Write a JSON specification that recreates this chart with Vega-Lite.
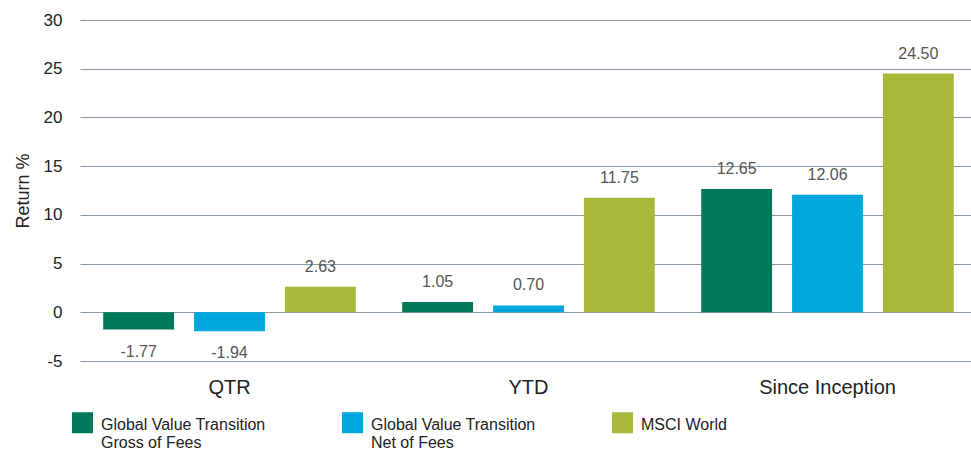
{
  "$schema": "https://vega.github.io/schema/vega-lite/v6.json",
  "width": 897,
  "height": 341,
  "autosize": "none",
  "padding": {"left": 80, "top": 20, "right": 0, "bottom": 89},
  "background": "white",
  "config": {
    "font": "Liberation Sans",
    "view": {"stroke": null}
  },
  "data": {
    "values": [
      {"period": "QTR", "series": "Gross", "value": -1.77},
      {"period": "QTR", "series": "Net", "value": -1.94},
      {"period": "QTR", "series": "MSCI", "value": 2.63},
      {"period": "YTD", "series": "Gross", "value": 1.05},
      {"period": "YTD", "series": "Net", "value": 0.70},
      {"period": "YTD", "series": "MSCI", "value": 11.75},
      {"period": "Since Inception", "series": "Gross", "value": 12.65},
      {"period": "Since Inception", "series": "Net", "value": 12.06},
      {"period": "Since Inception", "series": "MSCI", "value": 24.50}
    ]
  },
  "transform": [
    {"calculate": "replace(format(datum.value, '.2f'), '\u2212', '-')", "as": "label"}
  ],
  "encoding": {
    "x": {
      "field": "period", "type": "nominal",
      "sort": ["QTR", "YTD", "Since Inception"],
      "scale": {"paddingInner": 0, "paddingOuter": 0},
      "axis": {"title": null, "labelAngle": 0, "ticks": false, "domain": false, "labelFontSize": 20, "labelColor": "#222", "labelPadding": 16}
    },
    "xOffset": {
      "field": "series", "type": "nominal",
      "sort": ["Gross", "Net", "MSCI"],
      "scale": {"paddingInner": 0.22, "paddingOuter": 0.2555}
    },
    "y": {
      "field": "value", "type": "quantitative",
      "scale": {"domain": [-5, 30], "nice": false},
      "axis": {"title": "Return %", "titleFontSize": 18, "titleFontWeight": "normal", "titleColor": "#222", "titlePadding": 11, "values": [-5, 0, 5, 10, 15, 20, 25, 30], "labelExpr": "replace(datum.label, '\u2212', '-')", "ticks": false, "domain": false, "labelFontSize": 17, "labelColor": "#222", "labelPadding": 18, "gridColor": "#8a99a8", "gridWidth": 1, "gridOpacity": 1}
    }
  },
  "layer": [
    {
      "mark": {"type": "bar"},
      "encoding": {
        "color": {
          "field": "series", "type": "nominal",
          "sort": ["Gross", "Net", "MSCI"],
          "scale": {"domain": ["Gross", "Net", "MSCI"], "range": ["#00785a", "#00a6de", "#a8b83a"]},
          "legend": {
            "title": null,
            "orient": "none",
            "legendX": -8,
            "legendY": 386,
            "direction": "horizontal",
            "columns": 3,
            "columnPadding": 76,
            "symbolType": "M-1,-0.43H1V1.57H-1Z",
            "symbolSize": 441,
            "symbolStrokeWidth": 0,
            "labelFontSize": 16,
            "labelColor": "#222",
            "labelOffset": 8,
            "labelLimit": 300,
            "labelBaseline": "top",
            "labelExpr": "datum.value == 'Gross' ? ['Global Value Transition', 'Gross of Fees'] : datum.value == 'Net' ? ['Global Value Transition', 'Net of Fees'] : ['MSCI World', ' ']"
          }
        }
      }
    },
    {
      "transform": [{"filter": "datum.value >= 0"}],
      "mark": {"type": "text", "baseline": "bottom", "dy": -12, "fontSize": 16, "color": "#555"},
      "encoding": {"text": {"field": "label", "type": "nominal"}}
    },
    {
      "transform": [{"filter": "datum.value < 0"}],
      "mark": {"type": "text", "baseline": "top", "dy": 14, "fontSize": 16, "color": "#555"},
      "encoding": {"text": {"field": "label", "type": "nominal"}}
    }
  ]
}
